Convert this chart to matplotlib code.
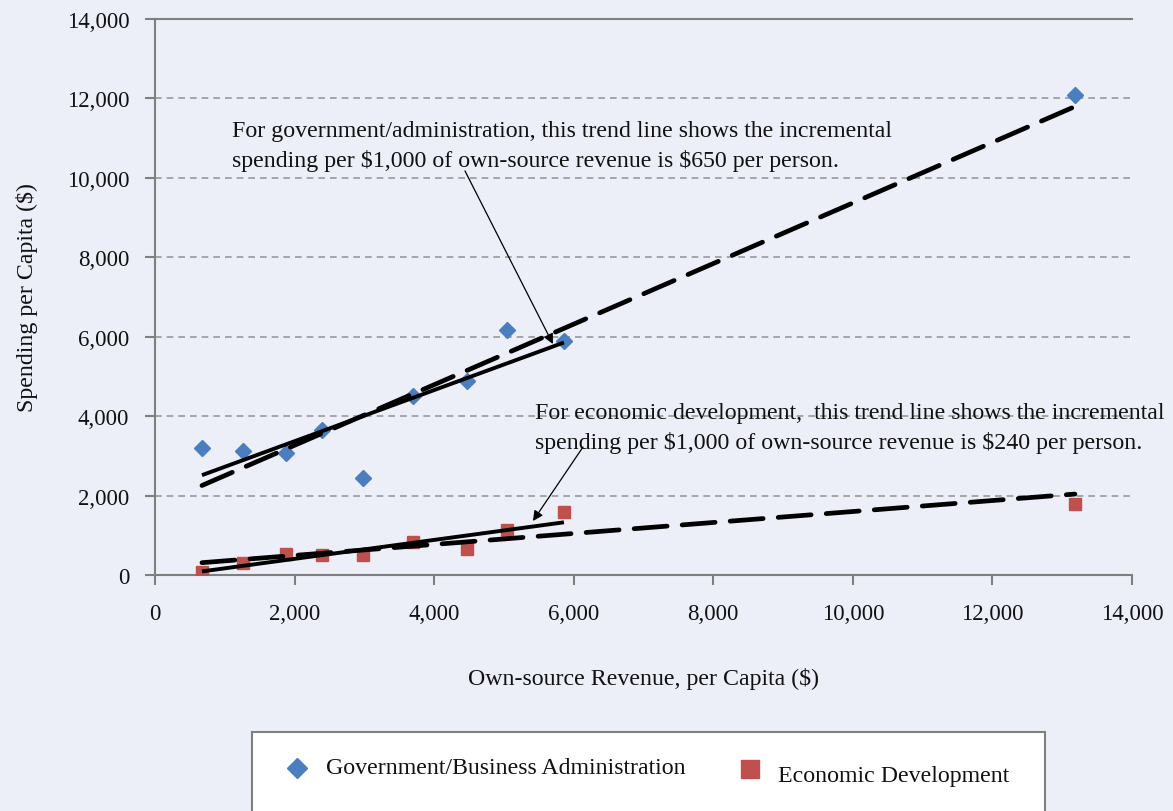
import numpy as np
import matplotlib
matplotlib.use("Agg")
import matplotlib.pyplot as plt

plt.rcParams['font.family'] = ['Liberation Serif', 'DejaVu Serif']

# ---- data ----
revenue = [673, 1261, 1877, 2393, 2980, 3697, 4470, 5044, 5860, 13182]
gov_admin = [3200, 3120, 3070, 3650, 2440, 4500, 4880, 6170, 5890, 12090]
econ_dev = [75, 300, 530, 500, 500, 830, 650, 1130, 1590, 1790]
x_ticks = [0, 2000, 4000, 6000, 8000, 10000, 12000, 14000]
y_ticks = [0, 2000, 4000, 6000, 8000, 10000, 12000, 14000]

bg = '#eceff7'
blue = '#4a7ebf'
red = '#c0504d'
axis_gray = '#7f7f7f'
txt = '#111111'
fs_tick = 16.5
fs = 17.2

fig = plt.figure(figsize=(11.73, 8.12), dpi=100, facecolor=bg)
ax = fig.add_axes([155/1173, 1-576/812, (1132-155)/1173, (576-20)/812])
ax.set_facecolor(bg)

rev = np.array(revenue)
g = np.array(gov_admin)
e = np.array(econ_dev)

def fit_line(xs, ys):
    m, b = np.polyfit(xs, ys, 1)
    xx = np.array([xs.min(), xs.max()])
    return xx, m*xx + b

dash = (0, (7.0, 3.2))
for ys in (g, e):
    xx, yy = fit_line(rev, ys)
    ax.plot(xx, yy, color='black', lw=3.4, linestyle=dash, dash_capstyle='round', zorder=4)
    xx, yy = fit_line(rev[:9], ys[:9])
    ax.plot(xx, yy, color='black', lw=2.8, solid_capstyle='butt', zorder=4)

ax.plot(rev, g, linestyle='none', marker='D', ms=8, color=blue, mec=blue, zorder=3)
ax.plot(rev, e, linestyle='none', marker='s', ms=9, color=red, mec=red, zorder=3)

ax.set_xlim(0, 14000)
ax.set_ylim(0, 14000)
ax.set_xticks(x_ticks)
ax.set_yticks(y_ticks)
ax.set_xticklabels([f'{v:,}' for v in x_ticks])
ax.set_yticklabels([f'{v:,}' for v in y_ticks])
ax.tick_params(axis='both', direction='out', length=7.5, width=1.5, color=axis_gray,
               labelsize=fs_tick, labelcolor=txt)
ax.tick_params(axis='x', pad=12.5)
ax.tick_params(axis='y', pad=11)

for gy in y_ticks[1:-1]:
    ax.axhline(gy, color='#999999', lw=1.2, linestyle=(0, (4, 3)), zorder=1)

for s in ('left', 'bottom', 'top'):
    ax.spines[s].set_color(axis_gray)
    ax.spines[s].set_linewidth(1.5)
ax.spines['right'].set_visible(False)

ax.set_xlabel('Own-source Revenue, per Capita ($)', fontsize=fs, labelpad=31, color=txt)
ax.set_ylabel('Spending per Capita ($)', fontsize=fs, labelpad=21, color=txt)

ax.text(1103, 10815,
        'For government/administration, this trend line shows the incremental\n'
        'spending per \\$1,000 of own-source revenue is \\$650 per person.',
        fontsize=fs, color=txt, ha='left', va='center', linespacing=1.42, zorder=5)
ax.text(5445, 3714,
        'For economic development,  this trend line shows the incremental\n'
        'spending per \\$1,000 of own-source revenue is \\$240 per person.',
        fontsize=fs, color=txt, ha='left', va='center', linespacing=1.42, zorder=5)

arrow = dict(arrowstyle='-|>', color='black', lw=0.9, shrinkA=0, shrinkB=0, mutation_scale=15)
ax.annotate('', xy=(5702, 5817), xytext=(4442, 10174), arrowprops=arrow, zorder=5)
ax.annotate('', xy=(5416, 1360), xytext=(6133, 3223), arrowprops=arrow, zorder=5)

# legend box
lax = fig.add_axes([252/1173, -0.05, (1045-252)/1173, (812-733)/812 + 0.05])
lax.set_facecolor('white')
lax.set_xticks([]); lax.set_yticks([])
for s in lax.spines.values():
    s.set_color(axis_gray); s.set_linewidth(1.5)
lax.set_xlim(0, 1); lax.set_ylim(0, 1)
lax.plot([0.057], [0.70], marker='D', ms=10, color=blue, linestyle='none', transform=lax.transAxes)
lax.text(0.093, 0.70, 'Government/Business Administration', fontsize=fs, color=txt,
         ha='left', va='center', transform=lax.transAxes)
lax.plot([0.628], [0.69], marker='s', ms=13, color=red, linestyle='none', transform=lax.transAxes)
lax.text(0.663, 0.64, 'Economic Development', fontsize=fs, color=txt,
         ha='left', va='center', transform=lax.transAxes)

fig.savefig('out.png', dpi=100, facecolor=bg)
